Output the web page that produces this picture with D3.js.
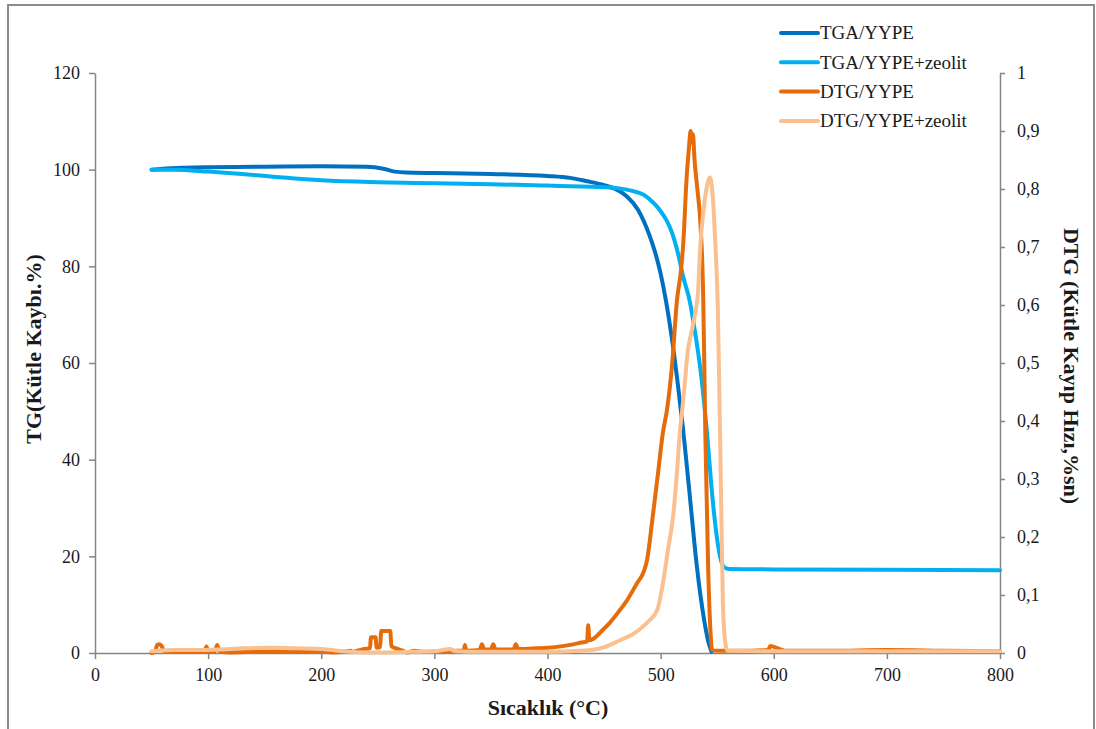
<!DOCTYPE html>
<html>
<head>
<meta charset="utf-8">
<script src="https://cdn.jsdelivr.net/npm/d3@7"></script>
<style>
  body { margin: 0; background: #fff; }
  svg text { font-family: "Liberation Serif", "Times New Roman", Times, "DejaVu Serif", serif; fill: #1a1a1a; }
  .tick text { font-size: 18px; }
  .axis path, .axis line { stroke: #868686; stroke-width: 1.5; }
  .title { font-size: 22px; font-weight: bold; }
  .legend text { font-size: 19px; }
</style>
</head>
<body>
<div id="chart"></div>
<script>
/************************************************************/
/************************** DATA ****************************/
/************************************************************/

var xTicks = [0, 100, 200, 300, 400, 500, 600, 700, 800];
var tgTicks = [0, 20, 40, 60, 80, 100, 120];
var dtgTicks = [0, 0.1, 0.2, 0.3, 0.4, 0.5, 0.6, 0.7, 0.8, 0.9, 1];

var seriesNames = ['TGA/YYPE', 'TGA/YYPE+zeolit', 'DTG/YYPE', 'DTG/YYPE+zeolit'];

// TGA/YYPE (left axis, %)
var tgaYypeT = [50, 60, 80, 100, 150, 200, 240, 255, 265, 275, 300, 350, 400, 420, 435, 450, 460,
  470, 480, 490, 495, 500, 505, 510, 515, 520, 526, 532, 538, 542, 545];
var tgaYypeV = [100, 100.2, 100.4, 100.5, 100.6, 100.7, 100.6, 100.2, 99.6, 99.4, 99.3, 99.1, 98.7, 98.3, 97.6, 96.8, 96.0,
  94.5, 91.7, 86.5, 83, 78.5, 72.5, 65, 56, 46, 32, 18, 7.5, 2.5, 0.3];

// TGA/YYPE+zeolit (left axis, %)
var tgaZeolitT = [50, 70, 100, 130, 160, 200, 250, 300, 350, 400, 430, 460, 475, 485, 495, 500, 505, 510,
  515, 520, 526, 530, 535, 541, 546, 550, 553, 556, 560, 600, 700, 800];
var tgaZeolitV = [100, 100, 99.6, 99.1, 98.5, 97.8, 97.4, 97.2, 97.0, 96.7, 96.5, 96.2, 95.6, 94.8, 92.8, 91.4, 89.6, 87,
  83, 77.8, 72.5, 67, 59, 45.5, 31.7, 23.5, 19.5, 17.8, 17.4, 17.3, 17.2, 17.1];

// DTG/YYPE (right axis)
var dtgYypeT = [50, 53, 55, 57, 59, 61, 70, 80, 90, 97, 98.5, 100, 106, 108, 110, 120, 140, 160, 180, 200,
  210, 220, 226, 228, 232, 238, 243, 244, 248, 249, 252, 253, 261, 262, 266, 272, 276, 282, 290, 300,
  310, 320, 326, 327, 328, 340, 342, 344, 350, 352, 354, 370, 372, 374, 380, 390, 400, 410, 420, 430,
  435, 436, 437, 440, 449, 455, 464, 470, 479, 485, 488, 493, 497.7, 502, 505.6, 510, 514.5, 518, 520,
  523, 525, 526.5, 527.5, 528.5, 530, 533, 535, 537.7, 539.5, 542, 544, 545.5, 550, 560, 580, 595, 597,
  610, 650, 700, 750, 800];
var dtgYypeV = [0, 0.002, 0.014, 0.015, 0.012, 0.003, 0.002, 0.002, 0.002, 0.002, 0.011, 0.003, 0.003, 0.014, 0.003, 0.001, 0.002, 0.003, 0.002, 0.002,
  0.001, 0.002, 0.004, 0.002, 0.004, 0.007, 0.008, 0.027, 0.027, 0.009, 0.010, 0.038, 0.038, 0.012, 0.008, 0.004, 0.001, 0.004, 0.002, 0.002,
  0.003, 0.004, 0.004, 0.014, 0.004, 0.005, 0.015, 0.006, 0.006, 0.015, 0.006, 0.006, 0.015, 0.007, 0.007, 0.008, 0.009, 0.011, 0.014, 0.018,
  0.020, 0.048, 0.022, 0.024, 0.040, 0.052, 0.074, 0.090, 0.120, 0.140, 0.160, 0.235, 0.310, 0.380, 0.419, 0.494, 0.609, 0.660, 0.706,
  0.820, 0.870, 0.900, 0.880, 0.895, 0.850, 0.790, 0.747, 0.609, 0.380, 0.148, 0.040, 0.005, 0.004, 0.004, 0.004, 0.005, 0.012,
  0.004, 0.004, 0.005, 0.004, 0.003];

// DTG/YYPE+zeolit (right axis)
var dtgZeolitT = [50, 55, 70, 90, 110, 130, 155, 180, 200, 215, 225, 240, 260, 280, 300, 310, 314, 317, 320,
  340, 360, 380, 400, 420, 439, 450, 464, 475, 484, 490, 497, 502, 506.5, 511, 514, 517, 520, 524, 528,
  531, 533, 535, 538, 541, 543.5, 545.5, 547, 549, 550.5, 552, 553.5, 555, 557, 559, 600, 700, 800];
var dtgZeolitV = [0.003, 0.004, 0.005, 0.005, 0.006, 0.008, 0.009, 0.008, 0.007, 0.004, 0.002, 0.001, 0.001, 0.002, 0.003, 0.006, 0.007, 0.004, 0.003,
  0.002, 0.002, 0.002, 0.002, 0.003, 0.005, 0.010, 0.022, 0.032, 0.045, 0.056, 0.074, 0.120, 0.178, 0.235, 0.300, 0.380, 0.436, 0.520, 0.560,
  0.590, 0.620, 0.700, 0.765, 0.805, 0.820, 0.800, 0.760, 0.680, 0.600, 0.440, 0.260, 0.090, 0.020, 0.004, 0.003, 0.003, 0.003];

/************************************************************/
/************************** RENDER **************************/
/************************************************************/

var width = 1096, height = 729,
    colors = ['#0070c0', '#00b0f0', '#e46c0a', '#fac090'];

var svg = d3.select('#chart').append('svg')
    .attr('width', width)
    .attr('height', height);

// frame round the picture
svg.append('rect')
    .attr('x', 8).attr('y', 5)
    .attr('width', 1086).attr('height', 740)
    .attr('fill', 'none')
    .attr('stroke', '#8c8c8c')
    .attr('stroke-width', 2);

var x = d3.scaleLinear().domain([0, 800]).range([95, 1000]);
var yTg = d3.scaleLinear().domain([0, 120]).range([653, 73]);
var yDtg = d3.scaleLinear().domain([0, 1]).range([653, 73]);

var comma = function(d) { return String(d).replace('.', ','); };

svg.append('g')
    .attr('class', 'axis')
    .attr('transform', 'translate(0,' + yTg(0) + ')')
    .call(d3.axisBottom(x).tickValues(xTicks).tickSize(6).tickSizeOuter(0).tickPadding(9).tickFormat(d3.format('d')));

svg.append('g')
    .attr('class', 'axis')
    .attr('transform', 'translate(' + x(0) + ',0)')
    .call(d3.axisLeft(yTg).tickValues(tgTicks).tickSize(6).tickSizeOuter(0).tickPadding(9).tickFormat(d3.format('d')));

svg.append('g')
    .attr('class', 'axis')
    .attr('transform', 'translate(' + x(800) + ',0)')
    .call(d3.axisRight(yDtg).tickValues(dtgTicks).tickSize(5).tickSizeOuter(0).tickPadding(12).tickFormat(comma));

svg.selectAll('.axis').attr('font-family', null);

// curves
function pairs(ts, vs) {
  return ts.map(function(t, i) { return [t, vs[i]]; });
}

var lineTg = d3.line()
    .x(function(d) { return x(d[0]); })
    .y(function(d) { return yTg(d[1]); })
    .curve(d3.curveMonotoneX);

var lineDtg = d3.line()
    .x(function(d) { return x(d[0]); })
    .y(function(d) { return yDtg(d[1]); })
    .curve(d3.curveMonotoneX);

var curves = [
  { d: lineTg(pairs(tgaYypeT, tgaYypeV)), color: colors[0] },
  { d: lineTg(pairs(tgaZeolitT, tgaZeolitV)), color: colors[1] },
  { d: lineDtg(pairs(dtgYypeT, dtgYypeV)), color: colors[2] },
  { d: lineDtg(pairs(dtgZeolitT, dtgZeolitV)), color: colors[3] }
];

svg.selectAll('.curve')
    .data(curves)
    .enter().append('path')
      .attr('class', 'curve')
      .attr('d', function(d) { return d.d; })
      .attr('fill', 'none')
      .attr('stroke', function(d) { return d.color; })
      .attr('stroke-width', 4)
      .attr('stroke-linejoin', 'round')
      .attr('stroke-linecap', 'round');

// titles
svg.append('text')
    .attr('class', 'title')
    .attr('x', 548).attr('y', 715)
    .attr('text-anchor', 'middle')
    .text('Sıcaklık (°C)');

svg.append('text')
    .attr('class', 'title')
    .attr('transform', 'translate(41,349) rotate(-90)')
    .attr('text-anchor', 'middle')
    .text('TG(Kütle Kaybı.%)');

svg.append('text')
    .attr('class', 'title')
    .attr('transform', 'translate(1064,366) rotate(90)')
    .attr('text-anchor', 'middle')
    .text('DTG (Kütle Kayıp Hızı,%sn)');

// legend
var legend = svg.selectAll('.legend')
    .data(seriesNames)
    .enter().append('g')
      .attr('class', 'legend')
      .attr('transform', function(d, i) { return 'translate(781,' + (33 + i * 29.3) + ')'; });

legend.append('line')
    .attr('x1', 0).attr('x2', 37)
    .attr('stroke', function(d, i) { return colors[i]; })
    .attr('stroke-width', 4)
    .attr('stroke-linecap', 'round');

legend.append('text')
    .attr('x', 39)
    .attr('dy', '0.34em')
    .text(function(d) { return d; });
</script>
</body>
</html>
